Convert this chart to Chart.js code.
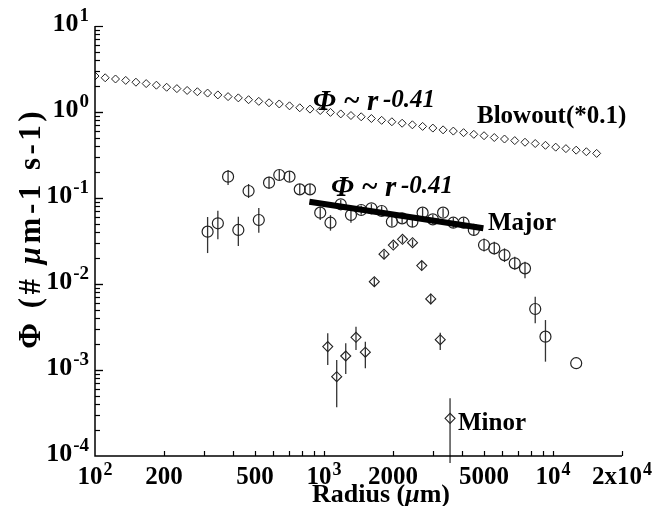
<!DOCTYPE html>
<html>
<head>
<meta charset="utf-8">
<script src="https://cdn.jsdelivr.net/npm/chart.js@4.4.1/dist/chart.umd.min.js"></script>
<style>
html,body{margin:0;padding:0;background:#fff;}
canvas{display:block;}
</style>
</head>
<body>
<canvas id="c" width="657" height="506" style="width:657px;height:506px"></canvas>
<script>
// ---------------- DATA ----------------
const blowoutR = [100,110.8,122.9,136.2,150.9,167.3,185.4,205.5,227.8,252.5,279.9,310.2,343.9,381.1,422.5,468.3,519.0,575.3,637.7,706.8,783.4,868.4,962.5,1067,1183,1311,1453,1610,1785,1978,2193,2431,2694,2986,3310,3669,4067,4508,4996,5538,6138,6804,7542,8359,9265,10270,11380,12620,13980,15500];
const blowoutPhi = [2.62,2.50,2.42,2.33,2.22,2.14,2.05,1.94,1.87,1.78,1.72,1.66,1.58,1.51,1.46,1.39,1.33,1.28,1.24,1.18,1.12,1.08,1.04,0.99,0.95,0.91,0.88,0.84,0.80,0.77,0.74,0.71,0.68,0.65,0.62,0.60,0.575,0.55,0.53,0.505,0.485,0.465,0.445,0.43,0.41,0.39,0.375,0.36,0.345,0.33];

const majorR = [310.2,343.9,381.1,422.5,468.3,519.0,575.3,637.7,706.8,783.4,868.4,962.5,1067,1183,1311,1453,1610,1785,1978,2193,2431,2694,2986,3310,3669,4067,4508,4996,5538,6138,6804,7542,8359,9265,12620];
const majorPhi = [0.0406,0.0508,0.177,0.0425,0.1206,0.0555,0.1507,0.185,0.177,0.126,0.126,0.0675,0.0516,0.0845,0.0634,0.0725,0.0759,0.0706,0.053,0.058,0.053,0.0675,0.0565,0.0675,0.0516,0.0516,0.0425,0.0284,0.026,0.0217,0.0174,0.0152,0.00512,0.00244,0.0012];
const majorLo = [0.0229,0.0331,0.1416,0.0277,0.100,0.0395,0.128,0.162,0.155,0.11,0.11,0.0555,0.0417,0.075,0.0514,0.064,0.068,0.063,0.047,0.051,0.046,0.059,0.05,0.06,0.045,0.045,0.037,0.0238,0.022,0.018,0.0146,0.0117,0.00349,0.00125,0.0012];
const majorHi = [0.0601,0.0711,0.212,0.0606,0.1455,0.0765,0.177,0.212,0.205,0.145,0.145,0.0792,0.0633,0.095,0.0787,0.082,0.085,0.08,0.06,0.066,0.061,0.077,0.064,0.076,0.059,0.059,0.049,0.0339,0.031,0.026,0.0207,0.0181,0.00711,0.00381,0.0012];

const minorR = [1038,1136,1244,1379,1515,1658,1828,2007,2201,2435,2671,2924,3217,3550];
const minorPhi = [0.00187,0.000836,0.001455,0.0024,0.00161,0.01064,0.0222,0.0284,0.0331,0.0302,0.0164,0.0067,0.00225,0.000274];
const minorLo = [0.00114,0.000368,0.000898,0.00171,0.00105,0.0095,0.020,0.026,0.030,0.0275,0.0145,0.0058,0.00171,0.000083];
const minorHi = [0.00267,0.00131,0.00204,0.00319,0.00213,0.0119,0.0245,0.031,0.036,0.033,0.0185,0.0077,0.00272,0.000469];

const fitR = [863, 4962];
const fitPhi = [0.0906, 0.0444];

const xTickValues = [100,200,500,1000,2000,5000,10000,20000];
const xTickLabels = ['10^2','200','500','10^3','2000','5000','10^4','2x10^4'];
const yTickValues = [1e-4,1e-3,1e-2,1e-1,1,10];
const yTickLabels = ['10^-4','10^-3','10^-2','10^-1','10^0','10^1'];

// ---------------- CHART ----------------
const FONT = '"Liberation Serif","Times New Roman",serif';
const toPts = (xs, ys) => xs.map((x, i) => ({x: x, y: ys[i]}));

function drawSup(ctx, label, x, y, align, size) {
  const parts = label.split('^');
  const b = parts[0], e = parts[1] || '';
  const es = Math.round(size * 0.72);
  ctx.font = 'bold ' + size + 'px ' + FONT;
  const wb = ctx.measureText(b).width;
  ctx.font = 'bold ' + es + 'px ' + FONT;
  const we = e ? ctx.measureText(e).width + 1 : 0;
  const tot = wb + we;
  let sx = x;
  if (align === 'center') sx = x - tot / 2;
  else if (align === 'right') sx = x - tot;
  ctx.textAlign = 'left';
  ctx.textBaseline = 'alphabetic';
  ctx.font = 'bold ' + size + 'px ' + FONT;
  ctx.fillText(b, sx, y);
  if (e) {
    ctx.font = 'bold ' + es + 'px ' + FONT;
    ctx.fillText(e, sx + wb + 1, y - size * 0.38);
  }
}

const decorPlugin = {
  id: 'decor',
  beforeDatasetsDraw(chart) {
    const ctx = chart.ctx;
    const xs = chart.scales.x, ys = chart.scales.y;
    ctx.save();
    ctx.strokeStyle = '#333';
    ctx.lineWidth = 1.3;
    const bars = [[majorR, majorLo, majorHi], [minorR, minorLo, minorHi]];
    bars.forEach(([R, lo, hi]) => {
      R.forEach((r, i) => {
        if (lo[i] === hi[i]) return;
        const px = xs.getPixelForValue(r);
        ctx.beginPath();
        ctx.moveTo(px, ys.getPixelForValue(lo[i]));
        ctx.lineTo(px, ys.getPixelForValue(hi[i]));
        ctx.stroke();
      });
    });
    ctx.restore();
  },
  afterDraw(chart) {
    const ctx = chart.ctx;
    const xs = chart.scales.x, ys = chart.scales.y;
    const a = chart.chartArea;
    ctx.save();
    ctx.fillStyle = '#000';
    ctx.strokeStyle = '#000';
    // axis lines
    ctx.lineWidth = 1.5;
    ctx.beginPath();
    ctx.moveTo(a.left, a.top);
    ctx.lineTo(a.left, a.bottom);
    ctx.lineTo(a.right, a.bottom);
    ctx.stroke();
    // x ticks (inward)
    ctx.lineWidth = 1.2;
    for (let k = 2; k <= 4; k++) {
      for (let d = 1; d <= 9; d++) {
        const v = d * Math.pow(10, k);
        if (v <= 100 || v > 20000) continue;
        const px = Math.round(xs.getPixelForValue(v)) + 0.5;
        ctx.beginPath();
        ctx.moveTo(px, a.bottom);
        ctx.lineTo(px, a.bottom - 5);
        ctx.stroke();
      }
    }
    // y ticks (inward)
    for (let k = -4; k <= 0; k++) {
      for (let d = 1; d <= 10; d++) {
        const v = d * Math.pow(10, k);
        if (v <= 1e-4) continue;
        const py = Math.round(ys.getPixelForValue(v)) + 0.5;
        const len = (d === 1 || d === 10) ? 8 : 5;
        ctx.beginPath();
        ctx.moveTo(a.left, py);
        ctx.lineTo(a.left + len, py);
        ctx.stroke();
      }
    }
    // tick labels
    xTickValues.forEach((v, i) => {
      drawSup(ctx, xTickLabels[i], xs.getPixelForValue(v), a.bottom + 28, 'center', 25);
    });
    yTickValues.forEach((v, i) => {
      drawSup(ctx, yTickLabels[i], a.left - 6, ys.getPixelForValue(v) + 5, 'right', 26);
    });
    // x axis title
    ctx.textBaseline = 'alphabetic';
    ctx.textAlign = 'left';
    const xt1 = 'Radius (', xt2 = '\u03bc', xt3 = 'm)';
    ctx.font = 'bold 26px ' + FONT;
    const w1 = ctx.measureText(xt1).width, w3 = ctx.measureText(xt3).width;
    ctx.font = 'bold italic 26px ' + FONT;
    const w2 = ctx.measureText(xt2).width;
    let sx = 381 - (w1 + w2 + w3) / 2;
    ctx.font = 'bold 26px ' + FONT; ctx.fillText(xt1, sx, 502);
    ctx.font = 'bold italic 26px ' + FONT; ctx.fillText(xt2, sx + w1, 502);
    ctx.font = 'bold 26px ' + FONT; ctx.fillText(xt3, sx + w1 + w2, 502);
    // y axis title (rotated)
    ctx.save();
    ctx.translate(40, 230);
    ctx.rotate(-Math.PI / 2);
    const sp = 3.5;
    const segs = [['\u03a6 (# ', false], ['\u03bc', true], ['m-1 s-1)', false]];
    const ysz = 31;
    const chars = [];
    segs.forEach(s => { for (const ch of s[0]) chars.push([ch, s[1]]); });
    let tw = 0;
    chars.forEach(c => { ctx.font = (c[1] ? 'bold italic ' : 'bold ') + ysz + 'px ' + FONT; tw += ctx.measureText(c[0]).width + sp; });
    tw -= sp;
    let cx = -tw / 2;
    chars.forEach(c => { ctx.font = (c[1] ? 'bold italic ' : 'bold ') + ysz + 'px ' + FONT; ctx.fillText(c[0], cx, 0); cx += ctx.measureText(c[0]).width + sp; });
    ctx.restore();
    // annotations
    function phiLaw(x, y) {
      ctx.font = 'bold italic 29px ' + FONT;
      ctx.fillText('\u03a6 ~ r', x, y);
      ctx.font = 'bold italic 25px ' + FONT;
      ctx.fillText('-0.41', x + 70, y - 3);
    }
    phiLaw(313, 110);
    phiLaw(331, 196);
    ctx.font = 'bold 25px ' + FONT;
    ctx.fillText('Blowout(*0.1)', 477, 123);
    ctx.fillText('Major', 488, 230);
    ctx.fillText('Minor', 458, 430);
    ctx.restore();
  }
};

new Chart(document.getElementById('c'), {
  type: 'scatter',
  data: {
    datasets: [
      {label: 'Fit', type: 'line', data: toPts(fitR, fitPhi), borderColor: '#000', borderWidth: 6, pointRadius: 0, showLine: true, fill: false, order: 0},
      {label: 'Blowout(*0.1)', data: toPts(blowoutR, blowoutPhi), pointStyle: 'rectRot', pointRadius: 4, borderColor: '#222', backgroundColor: 'rgba(0,0,0,0)', borderWidth: 1, order: 1},
      {label: 'Major', data: toPts(majorR, majorPhi), pointStyle: 'circle', pointRadius: 5.5, borderColor: '#222', backgroundColor: 'rgba(0,0,0,0)', borderWidth: 1.2, order: 2},
      {label: 'Minor', data: toPts(minorR, minorPhi), pointStyle: 'rectRot', pointRadius: 5, borderColor: '#222', backgroundColor: 'rgba(0,0,0,0)', borderWidth: 1.1, order: 3}
    ]
  },
  options: {
    responsive: false,
    animation: false,
    devicePixelRatio: 1,
    layout: {padding: {left: 95, top: 26, right: 35, bottom: 50}},
    plugins: {legend: {display: false}, tooltip: {enabled: false}},
    scales: {
      x: {type: 'logarithmic', min: 100, max: 20000, display: false},
      y: {type: 'logarithmic', min: 1e-4, max: 10, display: false}
    }
  },
  plugins: [decorPlugin]
});
</script>
</body>
</html>
